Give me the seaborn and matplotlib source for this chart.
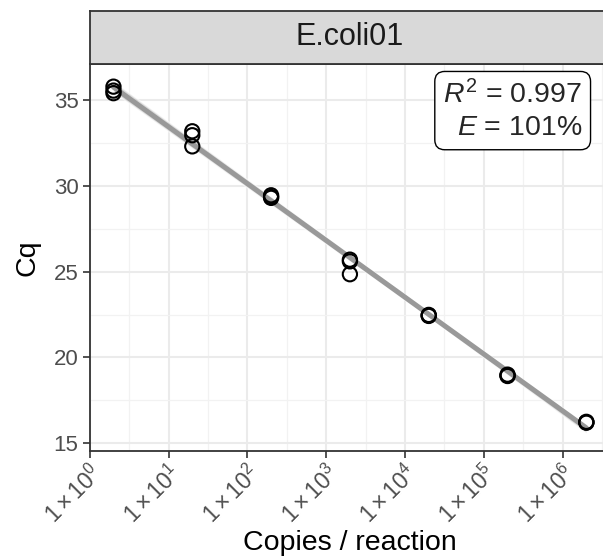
import numpy as np
import pandas as pd
import matplotlib
matplotlib.use("Agg")
import matplotlib.pyplot as plt
import seaborn as sns
from matplotlib.ticker import FixedLocator, FixedFormatter, NullFormatter

# ---- data ----
copies = [2, 2, 2, 20, 20, 20, 200, 200, 200, 2000, 2000, 2000,
          2e4, 2e4, 2e4, 2e5, 2e5, 2e5, 2e6, 2e6, 2e6]
cq = [35.78, 35.40, 35.55, 33.18, 32.95, 32.30, 29.45, 29.30, 29.35,
      25.70, 25.60, 24.85, 22.45, 22.42, 22.48, 19.00, 18.95, 18.92,
      16.22, 16.20, 16.25]
panel_title = "E.coli01"
r2_text = "0.997"
eff_text = "101%"
x_decades = [0, 1, 2, 3, 4, 5, 6]
y_ticks = [15, 20, 25, 30, 35]

df = pd.DataFrame({"copies": copies, "cq": cq})

sns.set_theme(style="white")
plt.rcParams["font.family"] = ["Liberation Sans", "DejaVu Sans"]
plt.rcParams["mathtext.fontset"] = "custom"
plt.rcParams["mathtext.rm"] = "Liberation Sans"
plt.rcParams["mathtext.it"] = "Liberation Sans:italic"
plt.rcParams["mathtext.bf"] = "Liberation Sans:bold"

W, H = 603, 556
fig = plt.figure(figsize=(W / 100, H / 100), dpi=100)
L, R, T, B = 89.5, 610, 64, 451
ax = fig.add_axes([L / W, (H - B) / H, (R - L) / W, (B - T) / H])

ax.set_xscale("log")
sns.regplot(data=df, x="copies", y="cq", logx=True, scatter=False, ax=ax,
            seed=1, n_boot=1000,
            line_kws=dict(color="#999999", lw=3.6, zorder=2))
for coll in ax.collections:
    coll.set_facecolor("#C4C4C4")
    coll.set_alpha(0.6)
sns.scatterplot(data=df, x="copies", y="cq", ax=ax, marker="o", s=105,
                facecolor="none", edgecolor="black", linewidth=1.5, zorder=3)

ax.set_xlim(10 ** -0.003, 10 ** 6.601)
ax.set_ylim(14.55, 37.1)

ax.xaxis.set_major_locator(FixedLocator([10.0 ** k for k in x_decades]))
ax.xaxis.set_major_formatter(FixedFormatter([r"$1\times10^{%d}$" % k for k in x_decades]))
ax.xaxis.set_minor_locator(FixedLocator([10.0 ** (k + 0.5) for k in x_decades]))
ax.xaxis.set_minor_formatter(NullFormatter())
ax.set_yticks(y_ticks)
ax.yaxis.set_minor_locator(FixedLocator([17.5, 22.5, 27.5, 32.5]))

ax.grid(True, which="major", color="#EBEBEB", lw=1.5)
ax.grid(True, which="minor", color="#F2F2F2", lw=0.9)
ax.set_axisbelow(True)
for s in ax.spines.values():
    s.set_color("#333333")
    s.set_linewidth(1.3)
    s.set_visible(True)

ax.tick_params(axis="both", which="major", length=5, width=1.2, color="#333333",
               labelsize=16, labelcolor="#4D4D4D", direction="out", pad=3,
               bottom=True, left=True)
ax.tick_params(axis="x", which="major", labelsize=16.5, pad=2)
ax.tick_params(axis="both", which="minor", length=0)
for lab in ax.get_xticklabels():
    lab.set_rotation(45)
    lab.set_ha("right")
    lab.set_va("top")
    lab.set_rotation_mode("anchor")

ax.set_xlabel("Copies / reaction", fontsize=20.5, color="black")
ax.xaxis.label.set_va("baseline")
ax.xaxis.set_label_coords(0.5, -(550 - B) / (B - T))
ax.set_ylabel("Cq", fontsize=20.5, color="black")
ax.yaxis.label.set_va("center")
ax.yaxis.set_label_coords(-(L - 27) / (R - L), 0.5)

fig.text(582 / W, 1 - 80 / H, r"$R^2$ = " + r2_text + "\n" + r"$E$ = " + eff_text,
         ha="right", va="top", multialignment="right",
         fontsize=20.5, linespacing=1.3,
         bbox=dict(boxstyle="round,pad=0.3,rounding_size=0.35", fc="white",
                   ec="black", lw=1.0), zorder=5)

# facet strip
sax = fig.add_axes([L / W, (H - 63.5) / H, (R - L) / W, 53 / H])
sax.set_facecolor("#D9D9D9")
sax.set_xticks([])
sax.set_yticks([])
for s in sax.spines.values():
    s.set_color("#333333")
    s.set_linewidth(1.3)
    s.set_visible(True)
sax.text(0.5, 0.5, panel_title, ha="center", va="center", fontsize=22,
         color="#1A1A1A", transform=sax.transAxes)

fig.savefig("out.png", dpi=100)
